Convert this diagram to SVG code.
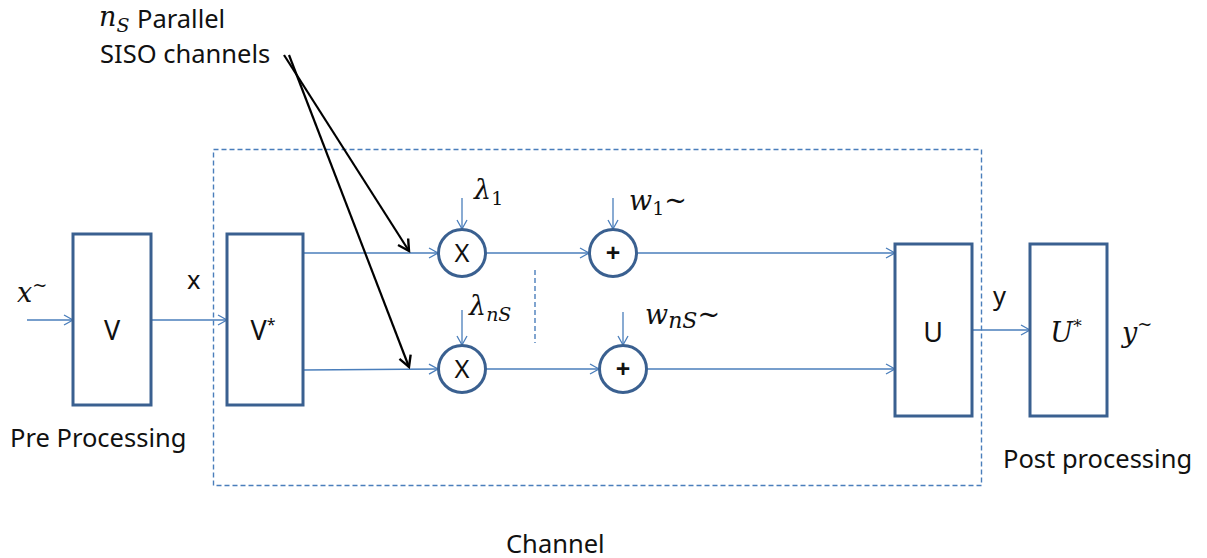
<svg xmlns="http://www.w3.org/2000/svg" width="1207" height="558" viewBox="0 0 1207 558">
<defs>
<marker id="ab" markerWidth="12" markerHeight="12" refX="10" refY="6" orient="auto" markerUnits="userSpaceOnUse">
<path d="M1,1 L10,6 L1,11" fill="none" stroke="#4A7EBB" stroke-width="1.3"/>
</marker>
<marker id="ak" markerWidth="16" markerHeight="16" refX="13" refY="8" orient="auto" markerUnits="userSpaceOnUse">
<path d="M2,2 L13,8 L2,14" fill="none" stroke="#000" stroke-width="2.4"/>
</marker>
<style>
.box{fill:#fff;stroke:#3A6090;stroke-width:3}
.arr{stroke:#4A7EBB;stroke-width:1.3;fill:none;marker-end:url(#ab)}
.blk{stroke:#000;stroke-width:2.2;fill:none;marker-end:url(#ak)}
.t{font-family:"Noto Sans","Open Sans",sans-serif;font-size:25.5px;fill:#111}
.m{font-family:"DejaVu Serif","Liberation Serif",serif;font-style:italic;font-size:27px;fill:#111}
.c{text-anchor:middle}
.big{font-size:27px}
.dash{fill:none;stroke:#4A7EBB;stroke-width:1.4;stroke-dasharray:5,3}
</style>
</defs>
<rect class="dash" x="213.5" y="149.5" width="768" height="336"/>
<line class="dash" x1="535" y1="270" x2="535" y2="343"/>
<g id="connectors">
<line class="arr" x1="27" y1="320" x2="73" y2="320"/>
<line class="arr" x1="151" y1="320" x2="227" y2="320"/>
<line class="arr" x1="303" y1="253" x2="438" y2="253"/>
<line class="arr" x1="303" y1="370" x2="438" y2="369"/>
<line class="arr" x1="486" y1="253" x2="589" y2="253"/>
<line class="arr" x1="637" y1="253" x2="895" y2="253"/>
<line class="arr" x1="486" y1="369" x2="599" y2="369"/>
<line class="arr" x1="647" y1="369" x2="895" y2="369"/>
<line class="arr" x1="972" y1="330" x2="1030" y2="330"/>
<line class="arr" x1="462" y1="198" x2="462" y2="229"/>
<line class="arr" x1="613" y1="198" x2="613" y2="229"/>
<line class="arr" x1="462" y1="310" x2="462" y2="345"/>
<line class="arr" x1="623" y1="312" x2="623" y2="345"/>
<line class="blk" x1="284" y1="55" x2="409" y2="251"/>
<line class="blk" x1="289" y1="55" x2="409" y2="367"/>
</g>
<g id="V"><rect class="box" x="73" y="234" width="78" height="171"/><text class="t c big" x="112" y="340">V</text></g>
<g id="Vstar"><rect class="box" x="227" y="234" width="76" height="171"/><text class="t c big" x="263" y="340">V<tspan dy="-10" font-size="16">*</tspan></text></g>
<g id="mul1"><circle cx="462" cy="253" r="23.5" fill="#fff" stroke="#3A6090" stroke-width="3"/><text class="t c" x="462" y="262">X</text></g>
<g id="add1"><circle cx="613" cy="253" r="23.5" fill="#fff" stroke="#3A6090" stroke-width="3"/><text class="t c" x="613" y="262" font-weight="bold">+</text></g>
<g id="mul2"><circle cx="462" cy="369" r="23.5" fill="#fff" stroke="#3A6090" stroke-width="3"/><text class="t c" x="462" y="378">X</text></g>
<g id="add2"><circle cx="623" cy="369" r="23.5" fill="#fff" stroke="#3A6090" stroke-width="3"/><text class="t c" x="623" y="378" font-weight="bold">+</text></g>
<g id="U"><rect class="box" x="895" y="244" width="77" height="172"/><text class="t c big" x="933" y="342">U</text></g>
<g id="Ustar"><rect class="box" x="1030" y="244" width="77" height="172"/><text class="m c" x="1066" y="342">U<tspan dy="-10" font-size="17" font-style="normal">*</tspan></text></g>
<g id="labels">
<text class="m" x="99" y="26">n<tspan dy="6" font-size="19">S</tspan></text>
<text class="t" x="137" y="28">Parallel</text>
<text class="t" x="100" y="63">SISO channels</text>
<text class="m" x="17" y="302">x<tspan dy="-11" font-size="18" font-style="normal">~</tspan></text>
<text class="t" x="187" y="289">x</text>
<text class="t" x="10" y="447">Pre Processing</text>
<text class="m" x="474" y="199">λ<tspan dy="6" font-size="19" font-style="normal">1</tspan></text>
<text class="m" x="469" y="315">λ<tspan dy="6" font-size="19">nS</tspan></text>
<text class="m" x="629" y="210">w<tspan dy="5" font-size="19" font-style="normal">1</tspan><tspan dy="-5" font-style="normal">~</tspan></text>
<text class="m" x="645" y="324">w<tspan dy="4" font-size="22">nS</tspan><tspan dy="-4" font-style="normal">~</tspan></text>
<text class="t" x="993" y="305">y</text>
<text class="m" x="1122" y="342">y<tspan dy="-12" font-size="18" font-style="normal">~</tspan></text>
<text class="t" x="1003" y="468">Post processing</text>
<text class="t" x="506" y="553">Channel</text>
</g>
</svg>
